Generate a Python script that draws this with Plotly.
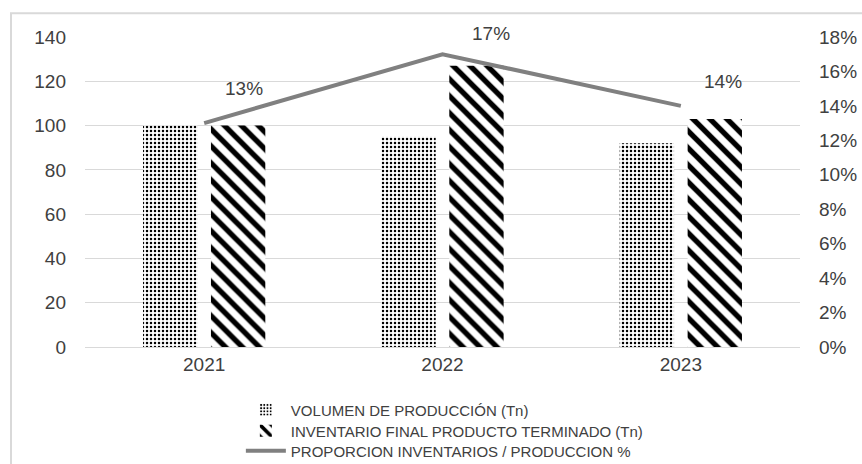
import plotly.graph_objects as go

years = ["2021", "2022", "2023"]
volumen = [100, 95, 92]
inventario = [100, 127, 103]
proporcion = [0.13, 0.17, 0.14]
prop_labels = ["13%", "17%", "14%"]

left_ticks = [0, 20, 40, 60, 80, 100, 120, 140]
right_ticks = [0, 0.02, 0.04, 0.06, 0.08, 0.10, 0.12, 0.14, 0.16, 0.18]
right_ticktext = ["0%", "2%", "4%", "6%", "8%", "10%", "12%", "14%", "16%", "18%"]

# label offsets (pixels) for the percentage labels
label_dx = [40, 48, 42]
label_dy = [35, 21, 24]

FONT = "Liberation Sans, Arial, sans-serif"
TXT = "#404040"
FS = 19
LFS = 15

fig = go.Figure()
fig.add_trace(go.Bar(
    x=years, y=volumen, name="VOLUMEN DE PRODUCCIÓN (Tn)", legend="legend",
    marker=dict(color="white", line=dict(width=0),
                pattern=dict(shape=".", fgcolor="#000000", bgcolor="white", size=4,
                             solidity=0.3, fillmode="replace", fgopacity=1)),
))
fig.add_trace(go.Bar(
    x=years, y=inventario, name="INVENTARIO FINAL PRODUCTO TERMINADO (Tn)", legend="legend2",
    marker=dict(color="white", line=dict(width=0),
                pattern=dict(shape="\\", fgcolor="#000000", bgcolor="white", size=12,
                             solidity=0.45, fillmode="replace", fgopacity=1)),
))
fig.add_trace(go.Scatter(
    x=years, y=proporcion, name="PROPORCION INVENTARIOS / PRODUCCION %", legend="legend3",
    mode="lines", line=dict(color="#808080", width=4), yaxis="y2",
))

# category axes place annotations by category index
for i, (v, t) in enumerate(zip(proporcion, prop_labels)):
    fig.add_annotation(x=i, y=v, xref="x", yref="y2", text=t, showarrow=False,
                       xshift=label_dx[i], yshift=label_dy[i],
                       font=dict(size=FS, color=TXT, family=FONT))

fig.add_shape(type="rect", xref="paper", yref="paper",
              x0=-0.1035, y0=-0.40, x1=1.2, y1=1.077,
              line=dict(color="#d9d9d9", width=2), fillcolor="rgba(0,0,0,0)", layer="below")

def leg(y):
    return dict(orientation="v", x=0.218, y=y, xanchor="left", yanchor="middle",
                font=dict(size=LFS, color=TXT, family=FONT), bgcolor="rgba(0,0,0,0)",
                itemwidth=40, tracegroupgap=0)

fig.update_layout(
    width=862, height=464,
    margin=dict(l=85, r=62, t=37, b=117, autoexpand=False),
    paper_bgcolor="white", plot_bgcolor="white",
    font=dict(family=FONT, size=FS, color=TXT),
    barmode="group", bargap=0.43, bargroupgap=0.2,
    showlegend=True,
    legend=leg((347 - 410) / 310),
    legend2=leg((347 - 431) / 310),
    legend3=leg((347 - 451) / 310),
    xaxis=dict(type="category", categoryorder="array", categoryarray=years,
               range=[-0.5, len(years) - 0.5], showgrid=False, showline=True,
               linecolor="#d9d9d9", linewidth=1,
               ticks="", tickfont=dict(size=FS, color=TXT)),
    yaxis=dict(range=[0, 140], tickvals=left_ticks, showgrid=True, gridcolor="#d9d9d9",
               gridwidth=1, zeroline=False, ticks="", ticklabelstandoff=18,
               tickfont=dict(size=FS, color=TXT)),
    yaxis2=dict(range=[0, 0.18], tickvals=right_ticks, ticktext=right_ticktext,
                overlaying="y", side="right", showgrid=False, zeroline=False,
                ticks="", ticklabelstandoff=18, tickfont=dict(size=FS, color=TXT)),
)

fig.write_html("out.html", config={"displayModeBar": False},
               post_script="document.body.style.margin='0';document.body.style.overflow='hidden';")
